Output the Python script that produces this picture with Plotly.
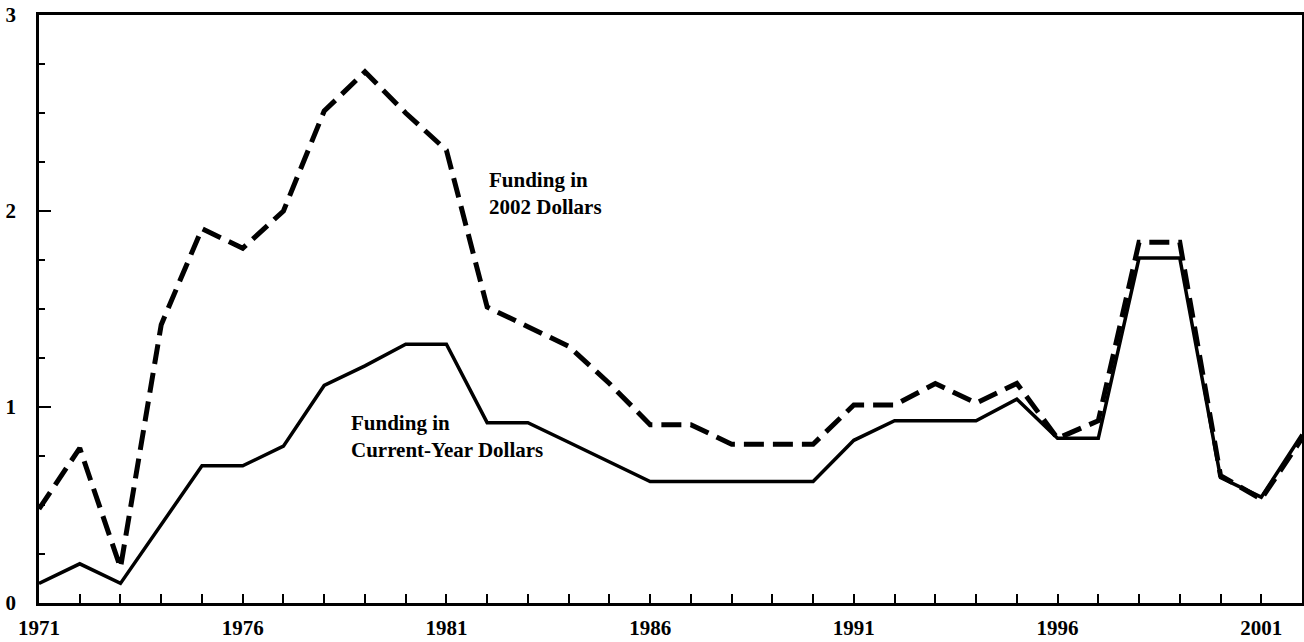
import plotly.graph_objects as go

# datos (miles de millones de dolares)
anios = list(range(1971, 2003))
dolares_2002 = [0.48, 0.79, 0.18, 1.42, 1.91, 1.81, 2.0, 2.51, 2.71, 2.5, 2.31,
                1.51, 1.41, 1.31, 1.12, 0.91, 0.91, 0.81, 0.81, 0.81, 1.01, 1.01,
                1.12, 1.02, 1.12, 0.84, 0.93, 1.84, 1.84, 0.65, 0.53, 0.84]
dolares_corrientes = [0.1, 0.2, 0.1, 0.4, 0.7, 0.7, 0.8, 1.11, 1.21, 1.32, 1.32,
                      0.92, 0.92, 0.82, 0.72, 0.62, 0.62, 0.62, 0.62, 0.62, 0.83, 0.93,
                      0.93, 0.93, 1.04, 0.84, 0.84, 1.76, 1.76, 0.64, 0.54, 0.86]
ticks_x = [1971, 1976, 1981, 1986, 1991, 1996, 2001]
ticks_y = [0, 1, 2, 3]

fuente = dict(family="Liberation Serif", size=21, color="black")

fig = go.Figure()
fig.add_trace(go.Scatter(x=anios, y=dolares_corrientes, mode="lines",
                         line=dict(color="black", width=3.5), cliponaxis=False))
fig.add_trace(go.Scatter(x=anios, y=dolares_2002, mode="lines",
                         line=dict(color="black", width=5, dash="20px,9px"),
                         cliponaxis=False))

fig.add_annotation(x=1982.0, y=2.09, text="<b>Funding in<br>2002 Dollars</b>",
                   showarrow=False, xanchor="left", yanchor="middle", align="left",
                   font=fuente)
fig.add_annotation(x=1978.62, y=0.85, text="<b>Funding in<br>Current-Year Dollars</b>",
                   showarrow=False, xanchor="left", yanchor="middle", align="left",
                   font=fuente)

fig.update_layout(
    width=1304, height=642,
    margin=dict(l=39, r=2, t=15, b=39),
    paper_bgcolor="white", plot_bgcolor="white",
    showlegend=False,
    font=fuente,
)
fig.update_xaxes(
    range=[1971, 2002], tickvals=ticks_x, ticktext=[f"<b>{t}</b>" for t in ticks_x],
    ticks="inside", ticklen=9, tickwidth=2, tickcolor="black",
    minor=dict(dtick=1, tick0=1971, ticks="inside", ticklen=9, tickwidth=2, tickcolor="black"),
    showline=True, linecolor="black", linewidth=2.5, mirror=True,
    showgrid=False, zeroline=False, ticklabelstandoff=4, automargin=False,
)
fig.update_yaxes(
    range=[0, 3], tickvals=ticks_y, ticktext=[f"<b>{t}</b>" for t in ticks_y],
    ticks="inside", ticklen=12, tickwidth=2, tickcolor="black",
    minor=dict(dtick=0.25, tick0=0, ticks="inside", ticklen=6, tickwidth=2, tickcolor="black"),
    showline=True, linecolor="black", linewidth=2.5, mirror=True,
    showgrid=False, zeroline=False, ticklabelstandoff=16, automargin=False,
)

fig.write_html("out.html", config={"displayModeBar": False},
               post_script="document.body.style.margin='0px';")
